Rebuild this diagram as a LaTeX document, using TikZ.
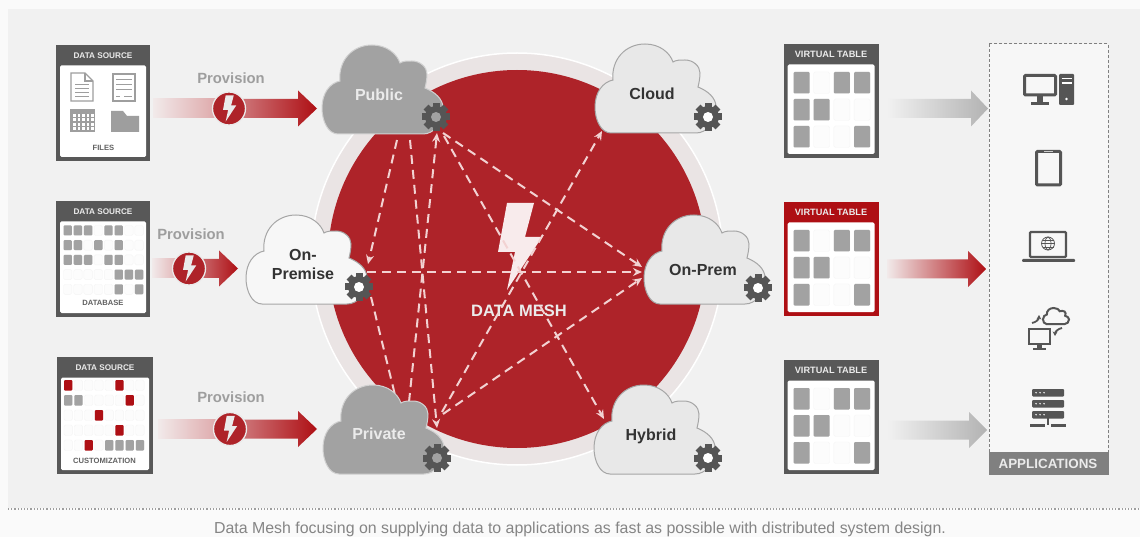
\documentclass[tikz,border=0pt]{standalone}
\usepackage{fontspec}
\setmainfont{Liberation Sans}
\usetikzlibrary{arrows.meta}

\definecolor{meshred}{HTML}{AE2329}
\definecolor{darkred}{HTML}{AE0F14}
\definecolor{ringgray}{HTML}{EAE4E4}
\definecolor{panelgray}{HTML}{F1F1F1}
\definecolor{darkbox}{HTML}{585858}
\definecolor{cellgray}{HTML}{A2A2A2}
\definecolor{icongray}{HTML}{555555}
\definecolor{dashpink}{HTML}{F2D2D2}

\tikzset{
    boxtitle/.style={text=white!92!black, font=\bfseries\fontsize{8.2}{9}\selectfont, inner sep=0pt},
    tabletitle/.style={text=white!92!black, font=\bfseries\fontsize{9.2}{10}\selectfont, inner sep=0pt},
    boxlabel/.style={text=black!62, font=\bfseries\fontsize{7.6}{9}\selectfont, inner sep=0pt},
    provlabel/.style={text=black!38, font=\bfseries\fontsize{14.8}{16}\selectfont, inner sep=0pt},
    cloudwhite/.style={text=white!92!black, font=\bfseries\fontsize{16}{19}\selectfont, inner sep=0pt},
    clouddark/.style={text=black!80, align=center, font=\bfseries\fontsize{16}{19}\selectfont, inner sep=0pt},
    meshline/.style={dashpink, line width=2pt, dash pattern=on 9pt off 6pt},
    meshtip/.style={meshline, -{Stealth[length=9pt,width=8pt]}},
    cellblank/.style={fill=white!99!black, draw=black!4, rounded corners=1.5pt},
    cellfull/.style={fill=cellgray, rounded corners=1pt},
    cellred/.style={fill=darkred, rounded corners=1pt},
    iconline/.style={draw=icongray, line width=3pt},
    docline/.style={draw=black!38, line width=1.2pt},
    cloudgray/.style={fill=cellgray, draw=black!18, line width=1pt},
    cloudlight/.style={fill=white!91!black, draw=black!35, line width=1pt},
    cloudpale/.style={fill=white!97!black, draw=black!35, line width=1pt},
    cloudshape/.pic={
        \path[pic actions] (16,89) .. controls (6,89) and (0,76) .. (0,63)
            .. controls (0,48) and (8,38) .. (18,36)
            .. controls (16,16) and (30,0) .. (50,0)
            .. controls (65,0) and (75,9) .. (78,18)
            .. controls (81,16) and (85,16) .. (90,16)
            .. controls (98,16) and (105,22) .. (105,29)
            .. controls (105,34) and (104,39) .. (103,43)
            .. controls (113,47) and (121,54) .. (121,63)
            .. controls (121,78) and (112,89) .. (101,89) -- cycle;
    },
    gearshape/.pic={
        \foreach \a in {0,45,...,315} {
            \fill[icongray,rotate=\a] (-3.5,-14) rectangle (3.5,0);
        }
        \fill[icongray] (0,0) circle (11);
        \path[pic actions] (0,0) circle (5);
    },
    boltshape/.pic={
        \fill (-11,-44) -- (16,-44) -- (7,-10) -- (24,-10) -- (-11,43) -- (-3,5) -- (-20,5) -- cycle;
    },
}

% name, x, y, width, height, title style, title, colour
\newcommand{\tablebox}[8]{
    \fill[#8] (#2,#3) rectangle ++(#4,#5);
    \fill[white,rounded corners=1.5pt] ({#2+4},{#3+20.5}) rectangle ++({#4-8},{#5-24.5});
    \node[#6] (#1) at ({#2+#4/2},{#3+10.5}) {#7};
}

% grid of a virtual table
\newcommand{\tablecells}[2]{
    \foreach \c in {0,1,2,3} {
        \foreach \r in {0,1,2} {
            \filldraw[cellblank] ({#1+10+\c*20.2},{#2+28+\r*27}) rectangle ++(16,21.5);
        }
    }
    \foreach \c/\r in {0/0, 2/0, 3/0, 0/1, 1/1, 0/2, 3/2} {
        \fill[cellfull] ({#1+10+\c*20.2},{#2+28+\r*27}) rectangle ++(16,21.5);
    }
}

% left x, head x, tip x, mid y, colours
\newcommand{\bandarrow}[6]{
    \shade[left color=#5,right color=#6] (#1,{#4-9.5}) -- (#2,{#4-9.5}) -- (#2,{#4-18}) -- (#3,#4)
        -- (#2,{#4+18}) -- (#2,{#4+9.5}) -- (#1,{#4+9.5}) -- cycle;
}

% name, left x, circle x, head x, tip x, y, label x, label y
\newcommand{\provision}[8]{
    \shade[left color=red!3!panelgray,right color=meshred!45!white] (#2,{#6-9.5}) rectangle (#3,{#6+9.5});
    \bandarrow{#3}{#4}{#5}{#6}{meshred!55!white}{darkred}
    \node[circle, fill=meshred, draw=white!92!black, line width=1.3pt, minimum size=33pt, inner sep=0pt] (#1) at (#3,#6) {};
    \pic[white!92!black,scale=.3] at (#3,#6) {boltshape};
    \node[provlabel] (#1text) at (#7,#8) {Provision};
}

\begin{document}
\begin{tikzpicture}[x=1pt,y=-1pt]
    \useasboundingbox (0,0) rectangle (1140,537);
    \fill[white!98!black] (0,0) rectangle (1140,537);
    \fill[panelgray] (8,9) rectangle (1140,508);
    \draw[black!38, line width=1.2pt, dotted] (8,509) -- (1140,509);
    \node[text=black!48, font=\fontsize{15.9}{18}\selectfont, inner sep=0pt] (caption) at (580,529)
        {Data Mesh focusing on supplying data to applications as fast as possible with distributed system design.};

    % data sources
    \tablebox{srcfiles}{56}{45}{94}{116}{boxtitle}{DATA SOURCE}{darkbox}
    \tablebox{srcdata}{56}{201}{94}{116}{boxtitle}{DATA SOURCE}{darkbox}
    \tablebox{srccustom}{57}{357}{96}{117}{boxtitle}{DATA SOURCE}{darkbox}
    \node[boxlabel] (files) at (103.5,148) {FILES};
    \node[boxlabel] (database) at (103,303) {DATABASE};
    \node[boxlabel] (custom) at (104.5,461) {CUSTOMIZATION};

    % files icons
    \draw[docline] (71,73) -- (85,73) -- (93,81) -- (93,101) -- (71,101) -- cycle;
    \draw[docline] (85,73) -- (85,81) -- (93,81);
    \foreach \y in {84,88,92,96} {
        \draw[docline, line width=.8pt] (75,\y) -- (89,\y);
    }
    \draw[docline] (113,74) rectangle (135,101);
    \foreach \y in {79,84,89} {
        \draw[docline, line width=.8pt] (116,\y) -- (132,\y);
    }
    \draw[docline, line width=.8pt] (116,96) -- (120,96);
    \draw[docline, line width=.8pt] (124,96) -- (132,96);
    \fill[black!38] (70,109) rectangle (95,132);
    \foreach \x in {73,77.5,82,86.5,91} {
        \foreach \y in {114,118.5,123,127.5} {
            \fill[white] (\x,\y) rectangle ++(2.6,2.6);
        }
    }
    \fill[black!38] (111,111) -- (123,111) -- (127,116) -- (139,116) -- (139,132) -- (111,132) -- cycle;

    % database grid
    \foreach \c in {0,...,7} {
        \foreach \r in {0,...,4} {
            \filldraw[cellblank] ({63.5+\c*10.2},{225.5+\r*14.7}) rectangle ++(8.4,10);
        }
    }
    \foreach \c/\r in {0/0, 1/0, 2/0, 4/0, 5/0, 0/1, 1/1, 3/1, 5/1, 0/2, 1/2, 2/2, 4/2, 5/2, 5/3, 6/3, 7/3, 5/4, 7/4} {
        \fill[cellfull] ({63.5+\c*10.2},{225.5+\r*14.7}) rectangle ++(8.4,10);
    }

    % customization grid
    \foreach \c in {0,...,7} {
        \foreach \r in {0,...,4} {
            \filldraw[cellblank] ({64+\c*10.25},{380+\r*15}) rectangle ++(8.4,10.5);
        }
    }
    \foreach \c/\r in {0/1, 1/1, 4/4, 5/4, 6/4, 7/4} {
        \fill[cellfull] ({64+\c*10.25},{380+\r*15}) rectangle ++(8.4,10.5);
    }
    \foreach \c/\r in {0/0, 5/0, 6/1, 3/2, 5/3, 2/4} {
        \fill[cellred] ({64+\c*10.25},{380+\r*15}) rectangle ++(8.4,10.5);
    }

    % the mesh
    \filldraw[fill=ringgray, draw=white, line width=1.5pt] (517,259) circle (206);
    \fill[meshred] (517,259) circle (189);
    \pic[white!91!meshred] at (518,247) {boltshape};
    \node[text=white!92!black, font=\bfseries\fontsize{16.5}{18}\selectfont, inner sep=0pt] (mesh) at (519,311) {DATA MESH};

    \coordinate (pubA) at (397,140);
    \coordinate (pubB) at (410,140);
    \coordinate (pubC) at (437,133);
    \coordinate (pubD) at (443,133);
    \coordinate (pubE) at (444,136);
    \coordinate (premA) at (368,264);
    \coordinate (premB) at (367,272);
    \coordinate (premC) at (371,297);
    \coordinate (privA) at (395,395);
    \coordinate (privB) at (409,402);
    \coordinate (privC) at (437,428);
    \coordinate (privD) at (442,412);
    \coordinate (privE) at (443,414);
    \coordinate (cloudA) at (602,131);
    \coordinate (onpremA) at (642,267);
    \coordinate (onpremB) at (642,272);
    \coordinate (onpremC) at (642,278);
    \coordinate (hybridA) at (604,419);

    \foreach \a/\b in {pubA/premA, pubB/privC, privB/pubC, pubD/onpremA, pubE/hybridA, premB/onpremB, privD/cloudA, privE/onpremC} {
        \draw[meshtip] (\a) -- (\b);
    }
    \draw[meshline] (premC) -- (privA);

    % clouds
    \pic[cloudgray] at (322,45) {cloudshape};
    \pic[cloudpale] at (246,215) {cloudshape};
    \pic[cloudgray] at (323,385) {cloudshape};
    \pic[cloudlight] at (595,44) {cloudshape};
    \pic[cloudlight] at (644,215) {cloudshape};
    \pic[cloudlight] at (594,385) {cloudshape};
    \node[cloudwhite] (public) at (379,95) {Public};
    \node[cloudwhite] (private) at (379,434) {Private};
    \node[clouddark] (onpremise) at (303,264) {On-\\Premise};
    \node[clouddark] (cloud) at (652,94) {Cloud};
    \node[clouddark] (onprem) at (703,270) {On-Prem};
    \node[clouddark] (hybrid) at (651,436) {Hybrid};
    \foreach \x/\y/\h in {436/117/cellgray, 359/287/white, 437/458/cellgray, 708/117/white, 758/288/white, 708/458/white} {
        \pic[fill=\h] at (\x,\y) {gearshape};
    }

    % provision arrows
    \provision{provA}{153}{229}{298}{317}{108.5}{231}{78}
    \provision{provB}{152}{189}{219}{238}{268.5}{191}{234}
    \provision{provC}{158}{230}{298}{317}{429}{231}{397}

    % virtual tables
    \tablebox{vtA}{783.5}{44}{95}{114}{tabletitle}{VIRTUAL TABLE}{darkbox}
    \tablebox{vtB}{783.5}{202}{95}{114}{tabletitle}{VIRTUAL TABLE}{darkred}
    \tablebox{vtC}{783.5}{360}{95}{114}{tabletitle}{VIRTUAL TABLE}{darkbox}
    \tablecells{783.5}{44}
    \tablecells{783.5}{202}
    \tablecells{783.5}{360}

    \bandarrow{887}{971}{988}{108.5}{panelgray}{black!30}
    \bandarrow{887}{968}{986}{269}{red!3!panelgray}{darkred}
    \bandarrow{887}{969}{987}{430}{panelgray}{black!30}

    % applications
    \filldraw[fill=white!97!black, draw=black!50, line width=1pt, densely dashed] (989,44) rectangle (1108,474);
    \fill[black!50] (988.5,452) rectangle (1108.5,474.5);
    \node[text=white!92!black, font=\bfseries\fontsize{13.4}{15}\selectfont, inner sep=0pt] (apps) at (1048,463.5) {APPLICATIONS};

    % desktop
    \draw[iconline, rounded corners=1pt] (1024.5,75.5) rectangle (1055.5,95);
    \fill[icongray] (1037,96) rectangle (1043,102);
    \draw[iconline] (1031,103.5) -- (1049,103.5);
    \fill[icongray, rounded corners=1pt] (1059,74) rectangle (1074,105);
    \draw[white, line width=1.2pt] (1061.5,78.5) -- (1071.5,78.5);
    \draw[white, line width=1.2pt] (1061.5,83) -- (1071.5,83);
    \fill[white] (1066.5,99) circle (1.3);

    % tablet
    \draw[iconline, rounded corners=1pt] (1036.5,151.5) rectangle (1060.5,185);
    \draw[white!80!black, line width=1pt] (1044,151.5) -- (1053,151.5);

    % laptop
    \draw[iconline, line width=2.4pt, rounded corners=1pt] (1030,232) rectangle (1066,257);
    \fill[icongray, rounded corners=1pt] (1022,259) rectangle (1075,262);
    \draw[icongray, line width=.8pt] (1048,243.5) circle (6.5);
    \draw[icongray, line width=.7pt] (1048,243.5) ellipse (3 and 6.5);
    \draw[icongray, line width=.7pt] (1041.5,243.5) -- (1054.5,243.5);
    \draw[icongray, line width=.7pt] (1042.5,240) -- (1053.5,240);
    \draw[icongray, line width=.7pt] (1042.5,247) -- (1053.5,247);

    % cloud sync
    \pic[draw=icongray, line width=2pt, xscale=.215, yscale=.18] at (1043,308) {cloudshape};
    \draw[iconline, line width=2.4pt] (1029,329) rectangle (1050,344);
    \fill[icongray] (1037,345) rectangle (1042,348);
    \draw[iconline, line width=1.8pt] (1033,349) -- (1046,349);
    \coordinate (syncA) at (1032,323);
    \coordinate (syncB) at (1039,315);
    \coordinate (syncC) at (1062,328);
    \coordinate (syncD) at (1055,336);
    \draw[icongray, line width=1.8pt, -{Stealth[length=4.5pt,width=5pt]}] (syncA) to[bend right=40] (syncB);
    \draw[icongray, line width=1.8pt, -{Stealth[length=4.5pt,width=5pt]}] (syncC) to[bend right=40] (syncD);

    % server
    \foreach \y in {389,400,411} {
        \fill[icongray, rounded corners=1pt] (1032,\y) rectangle ++(32,7.5);
        \foreach \x in {1036,1040,1044} {
            \fill[white] (\x,{\y+3.7}) circle (.8);
        }
    }
    \draw[icongray, line width=1.5pt] (1048,418) -- (1048,425);
    \draw[icongray, line width=2.4pt] (1030,425.5) -- (1045,425.5);
    \draw[icongray, line width=2.4pt] (1051,425.5) -- (1066,425.5);
\end{tikzpicture}
\end{document}
